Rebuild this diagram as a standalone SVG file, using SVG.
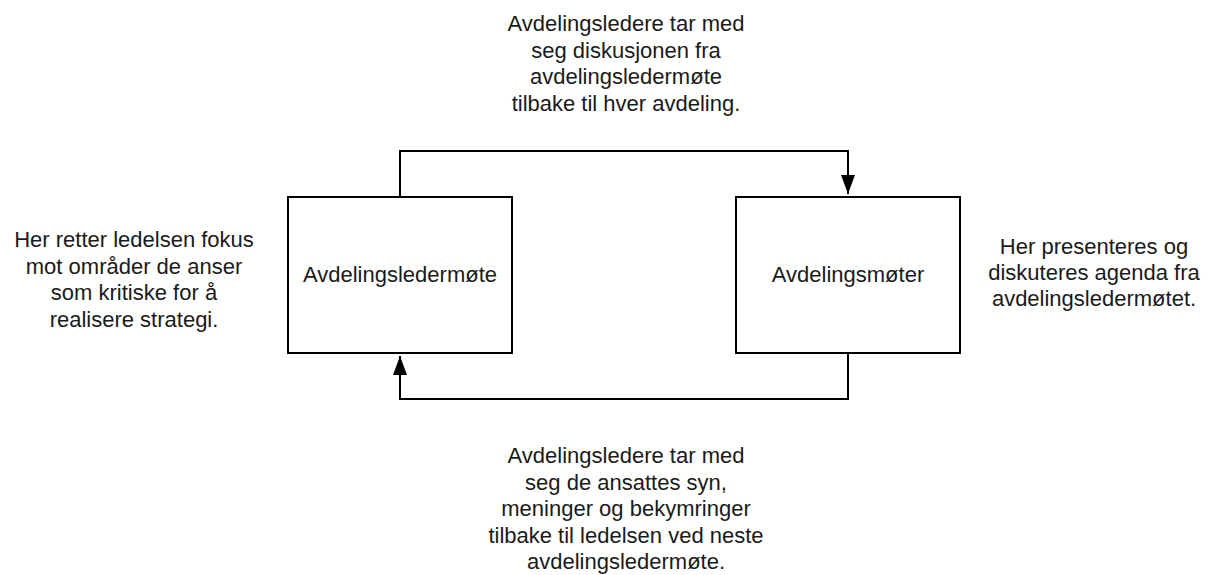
<svg xmlns="http://www.w3.org/2000/svg" width="1212" height="575" viewBox="0 0 1212 575">
  <style>
    .box { fill: #ffffff; stroke: #000000; stroke-width: 2; }
    .conn { fill: none; stroke: #000000; stroke-width: 2; }
    text { font-family: "Liberation Sans", Arial, sans-serif; font-size: 22px; fill: #1a1a1a; text-anchor: middle; }
  </style>
  <defs>
    <marker id="arrow" viewBox="0 0 19 14" refX="19" refY="7" markerWidth="19" markerHeight="14" markerUnits="userSpaceOnUse" orient="auto">
      <path d="M0,0 L19,7 L0,14 Z" fill="#000000"/>
    </marker>
  </defs>
  <rect width="1212" height="575" fill="#ffffff"/>

  <g id="connectors">
    <path class="conn" d="M400,197 V151 H848 V194" marker-end="url(#arrow)"/>
    <path class="conn" d="M848,353 V399 H400 V356" marker-end="url(#arrow)"/>
  </g>

  <g id="node-avdelingsledermote">
    <rect class="box" x="288" y="197" width="224" height="156"/>
    <text x="400" y="282">Avdelingsledermøte</text>
  </g>

  <g id="node-avdelingsmoter">
    <rect class="box" x="736" y="197" width="224" height="156"/>
    <text x="848" y="282">Avdelingsmøter</text>
  </g>

  <g id="label-left">
    <text x="134" y="247">Her retter ledelsen fokus</text>
    <text x="134" y="273.5">mot områder de anser</text>
    <text x="134" y="300">som kritiske for å</text>
    <text x="134" y="326.5">realisere strategi.</text>
  </g>

  <g id="label-right">
    <text x="1094" y="254">Her presenteres og</text>
    <text x="1094" y="280">diskuteres agenda fra</text>
    <text x="1094" y="306">avdelingsledermøtet.</text>
  </g>

  <g id="label-top">
    <text x="626" y="31">Avdelingsledere tar med</text>
    <text x="626" y="57.5">seg diskusjonen fra</text>
    <text x="626" y="84">avdelingsledermøte</text>
    <text x="626" y="110.5">tilbake til hver avdeling.</text>
  </g>

  <g id="label-bottom">
    <text x="626" y="463">Avdelingsledere tar med</text>
    <text x="626" y="489.5">seg de ansattes syn,</text>
    <text x="626" y="516">meninger og bekymringer</text>
    <text x="626" y="542.5">tilbake til ledelsen ved neste</text>
    <text x="626" y="569">avdelingsledermøte.</text>
  </g>
</svg>
